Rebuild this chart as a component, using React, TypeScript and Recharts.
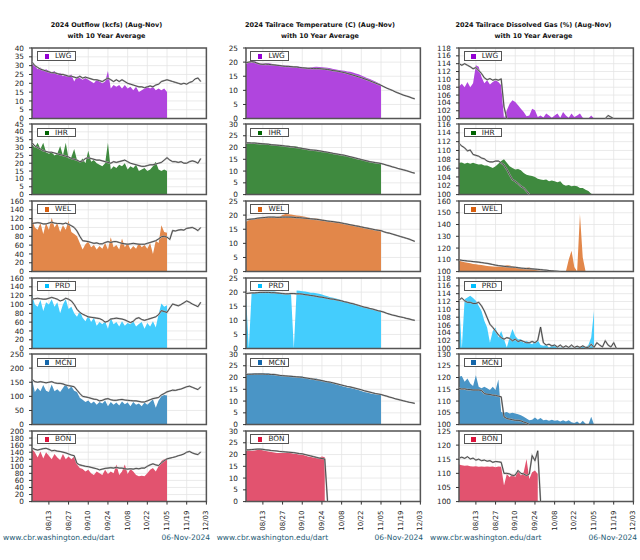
import React from "react";
import { ComposedChart, Area, Line, XAxis, YAxis, CartesianGrid, ReferenceArea } from "recharts";

// ---------- axis categories ----------
const DAYS = [0, 2, 4, 6, 8, 10, 12, 14, 16, 18, 20, 22, 24, 26, 28, 30, 32, 34, 36, 38, 40, 42, 44, 46, 48, 50, 52, 54, 56, 58, 60, 62, 64, 66, 68, 70, 72, 74, 76, 78, 80, 82, 84, 86, 88, 90, 92, 94, 96, 98, 100, 102, 104, 106, 108, 110, 112, 114, 116, 118, 120];
const TICK_DAYS = [12, 26, 40, 54, 68, 82, 96, 110, 124];
const TICK_LABELS = ["08/13", "08/27", "09/10", "09/24", "10/08", "10/22", "11/05", "11/19", "12/03"];

const STATIONS = ["LWG", "IHR", "WEL", "PRD", "MCN", "BON"];
const AREA_COLORS = ["#b045de", "#3f8a3f", "#e2874a", "#44cdfd", "#4a95c6", "#e2536f"];
const KEY_COLORS = ["#9400d3", "#006400", "#d9600f", "#00bfff", "#1466aa", "#dc143c"];

const TITLES = ["2024 Outflow (kcfs) (Aug-Nov)", "2024 Tailrace Temperature (C) (Aug-Nov)", "2024 Tailrace Dissolved Gas (%) (Aug-Nov)"];
const SUBTITLE = "with 10 Year Average";
const FOOT_URL = "www.cbr.washington.edu/dart";
const FOOT_DATE = "06-Nov-2024";

// ---------- y tick labels ----------
const FLOW_Y_TICKS = [
  [0, 5, 10, 15, 20, 25, 30, 35, 40],
  [0, 5, 10, 15, 20, 25, 30, 35, 40, 45],
  [0, 20, 40, 60, 80, 100, 120, 140, 160],
  [0, 20, 40, 60, 80, 100, 120, 140, 160],
  [0, 50, 100, 150, 200, 250],
  [0, 20, 40, 60, 80, 100, 120, 140, 160, 180, 200],
];
const TEMP_Y_TICKS = [
  [0, 5, 10, 15, 20, 25],
  [0, 5, 10, 15, 20, 25, 30],
  [0, 5, 10, 15, 20, 25],
  [0, 5, 10, 15, 20, 25],
  [0, 5, 10, 15, 20, 25, 30],
  [0, 5, 10, 15, 20, 25, 30],
];
const GAS_Y_TICKS = [
  [100, 102, 104, 106, 108, 110, 112, 114, 116, 118],
  [100, 102, 104, 106, 108, 110, 112, 114, 116],
  [100, 110, 120, 130, 140, 150, 160],
  [100, 102, 104, 106, 108, 110, 112, 114, 116, 118],
  [100, 105, 110, 115, 120, 125, 130],
  [100, 105, 110, 115, 120, 125],
];

// ---------- outflow (kcfs) ----------
const FLOW_LWG_2024 = [31, 30, 28, 29, 27, 28, 27, 26, 27, 25, 26, 24, 25, 24, 25, 21, 24, 23, 22, 23, 22, 21, 20, 22, 21, 20, 21, 27, 17, 19, 18, 19, 17, 19, 17, 18, 16, 18, 15, 16, 17, 18, 17, 18, 16, 17, 16, 17, 15];
const FLOW_LWG_AVG = [32, 30, 29, 28, 27.5, 27, 26.5, 26, 26, 25.5, 25, 25, 24.5, 24, 24, 23.5, 23, 24, 23, 23.5, 23, 22.5, 22, 22, 21.5, 21, 22, 23, 22, 21, 22, 21, 22, 21, 20, 19.5, 19, 18.5, 18, 18, 17.5, 18, 18.5, 18, 19, 19.5, 21, 21.5, 22, 21.5, 21, 20.5, 20, 19.5, 20, 19.5, 20.5, 21, 22.5, 23, 21];
const FLOW_IHR_2024 = [32, 30, 33, 29, 33, 27, 26, 27, 25, 26, 31, 25, 33, 23, 24, 29, 22, 21, 23, 20, 28, 21, 22, 20, 19, 18, 20, 33, 16, 18, 17, 19, 18, 20, 16, 18, 17, 19, 15, 16, 17, 15, 16, 18, 21, 16, 15, 16, 15];
const FLOW_IHR_AVG = [33, 31, 30, 29, 28, 27.5, 27, 27, 26.5, 26, 25.5, 25, 24.5, 24, 23, 22.5, 22, 21, 21.5, 23, 23.5, 23, 22.5, 22, 22, 21.5, 21, 20.5, 20, 21, 20.5, 21, 21.5, 22, 21, 20, 19.5, 19, 18.5, 18, 18, 18.5, 19, 19, 19.5, 20, 20.5, 22, 23.5, 22, 21, 21, 20.5, 21, 20, 20, 21, 21.5, 21, 20, 23];
const FLOW_WEL_2024 = [120, 100, 95, 110, 85, 110, 95, 122, 100, 110, 90, 105, 95, 115, 90, 85, 80, 65, 50, 62, 68, 55, 60, 50, 58, 52, 65, 50, 78, 55, 60, 50, 75, 55, 65, 50, 58, 52, 65, 55, 60, 52, 65, 40, 70, 65, 105, 90, 88];
const FLOW_WEL_AVG = [109, 110, 111, 110, 108, 108, 110, 112, 110, 109, 109, 108, 110, 107, 104, 100, 92, 80, 70, 69, 68, 66, 64, 65, 63, 63, 66, 68, 66, 68, 68, 66, 64, 63, 62, 63, 64, 63, 62, 62, 62, 64, 66, 68, 70, 74, 79, 80, 78, 73, 93, 92, 94, 95, 94, 98, 99, 100, 97, 93, 100];
const FLOW_PRD_2024 = [122, 100, 95, 110, 85, 105, 100, 112, 95, 105, 80, 100, 112, 90, 95, 80, 72, 85, 70, 62, 75, 60, 70, 52, 60, 55, 62, 45, 70, 55, 60, 50, 62, 52, 58, 55, 62, 50, 56, 60, 45, 58, 50, 62, 48, 78, 102, 95, 98];
const FLOW_PRD_AVG = [112, 113, 114, 113, 112, 112, 114, 116, 114, 112, 108, 110, 114, 112, 108, 100, 89, 82, 78, 75, 72, 71, 70, 69, 68, 65, 60, 62, 67, 68, 69, 68, 67, 65, 62, 59, 62, 68, 70, 66, 64, 66, 68, 70, 72, 77, 86, 84, 82, 92, 101, 99, 97, 100, 104, 108, 105, 101, 98, 95, 105];
const FLOW_MCN_2024 = [160, 115, 130, 118, 140, 120, 115, 142, 118, 125, 115, 130, 145, 125, 135, 120, 115, 95, 88, 80, 85, 75, 82, 70, 80, 75, 85, 65, 80, 70, 78, 68, 82, 72, 78, 65, 80, 70, 75, 65, 78, 70, 80, 90, 60, 85, 100, 105, 103];
const FLOW_MCN_AVG = [160, 152, 150, 152, 150, 148, 150, 152, 148, 146, 146, 144, 140, 138, 136, 134, 122, 110, 100, 98, 96, 93, 90, 89, 84, 86, 90, 92, 88, 86, 86, 88, 89, 87, 86, 85, 84, 84, 82, 80, 80, 84, 88, 92, 94, 96, 105, 110, 116, 119, 122, 121, 124, 126, 130, 134, 136, 132, 128, 124, 134];
const FLOW_BON_2024 = [149, 140, 125, 142, 122, 140, 130, 120, 135, 125, 118, 135, 120, 128, 120, 128, 105, 95, 92, 85, 90, 80, 75, 85, 80, 75, 90, 78, 85, 80, 105, 75, 85, 105, 78, 92, 85, 75, 72, 73, 72, 80, 90, 95, 85, 100, 115, 120, 122];
const FLOW_BON_AVG = [152, 148, 146, 148, 150, 151, 148, 144, 145, 143, 142, 140, 138, 135, 132, 130, 108, 104, 102, 100, 99, 97, 95, 93, 90, 92, 94, 95, 96, 95, 97, 95, 95, 93, 92, 93, 92, 94, 93, 95, 95, 100, 104, 107, 104, 102, 110, 116, 121, 123, 125, 127, 130, 132, 135, 140, 142, 138, 135, 133, 141];

// ---------- tailrace temperature (C) ----------
const TEMP_LWG_2024 = [19.5, 19.8, 20.3, 20.5, 19.9, 19.5, 19.4, 19.6, 19.7, 19.4, 19.2, 19.0, 18.8, 18.9, 18.8, 18.7, 18.6, 18.5, 18.5, 18.4, 18.3, 18.2, 18.0, 18.1, 18.3, 18.4, 18.3, 18.2, 18.1, 18.0, 17.8, 17.6, 17.4, 17.2, 17.0, 16.9, 16.7, 16.6, 16.3, 16.0, 15.7, 15.3, 14.8, 14.4, 14.0, 13.6, 13.1, 12.6, 12.2];
const TEMP_LWG_AVG = [19.8, 20.0, 20.2, 20.0, 19.6, 19.3, 19.2, 19.3, 19.2, 19.1, 19.0, 18.9, 18.8, 18.6, 18.5, 18.5, 18.4, 18.3, 18.3, 18.1, 18.0, 17.9, 17.8, 17.8, 17.7, 17.7, 17.7, 17.6, 17.5, 17.4, 17.2, 17.0, 16.9, 16.7, 16.5, 16.3, 16.0, 15.7, 15.4, 15.1, 14.8, 14.5, 14.1, 13.8, 13.4, 13.0, 12.6, 12.2, 11.8, 11.3, 10.8, 10.4, 10.0, 9.5, 9.1, 8.7, 8.3, 8.0, 7.7, 7.3, 7.0];
const TEMP_IHR_2024 = [22.0, 22.1, 22.0, 22.1, 21.9, 21.8, 21.8, 21.6, 21.6, 21.4, 21.3, 21.0, 20.7, 20.6, 20.8, 20.8, 20.7, 20.6, 20.4, 20.1, 19.9, 19.6, 19.3, 19.1, 18.9, 18.8, 18.7, 18.5, 18.2, 18.0, 17.8, 17.6, 17.4, 17.2, 17.0, 16.8, 16.5, 16.2, 15.9, 15.5, 15.2, 14.9, 14.6, 14.3, 14.0, 13.8, 13.7, 13.6, 13.4];
const TEMP_IHR_AVG = [22.0, 22.0, 21.9, 21.9, 21.8, 21.7, 21.6, 21.5, 21.4, 21.2, 21.1, 21.0, 20.9, 20.8, 20.6, 20.5, 20.3, 20.2, 20.0, 19.8, 19.6, 19.4, 19.2, 19.0, 18.9, 18.8, 18.6, 18.4, 18.2, 18.0, 17.8, 17.5, 17.3, 17.1, 16.9, 16.7, 16.4, 16.1, 15.8, 15.5, 15.2, 14.9, 14.6, 14.3, 14.0, 13.8, 13.6, 13.4, 13.2, 12.9, 12.5, 12.2, 11.8, 11.5, 11.1, 10.8, 10.5, 10.2, 9.8, 9.4, 9.1];
const TEMP_WEL_2024 = [17.6, 18.3, 18.5, 18.6, 18.8, 18.9, 19.0, 19.2, 19.3, 19.2, 19.2, 19.4, 19.5, 20.0, 20.4, 20.3, 20.2, 20.0, 19.9, 19.8, 19.6, 19.4, 19.2, 19.0, 18.9, 18.8, 18.6, 18.4, 18.3, 18.1, 17.9, 17.8, 17.7, 17.5, 17.3, 17.1, 16.9, 16.7, 16.6, 16.5, 16.3, 16.1, 15.8, 15.6, 15.4, 15.2, 15.0, 14.9, 14.7];
const TEMP_WEL_AVG = [18.3, 18.5, 18.6, 18.7, 18.9, 19.0, 19.1, 19.2, 19.3, 19.3, 19.3, 19.2, 19.2, 19.3, 19.3, 19.3, 19.3, 19.2, 19.1, 19.1, 19.0, 18.9, 18.8, 18.7, 18.6, 18.5, 18.4, 18.2, 18.1, 17.9, 17.8, 17.7, 17.5, 17.4, 17.2, 17.0, 16.8, 16.6, 16.4, 16.2, 16.0, 15.8, 15.6, 15.4, 15.2, 15.0, 14.8, 14.6, 14.5, 14.1, 13.8, 13.6, 13.3, 13.0, 12.7, 12.4, 12.1, 11.8, 11.5, 11.1, 10.7];
const TEMP_PRD_2024 = [19.0, 0, 19.8, 19.8, 19.9, 20.0, 20.0, 20.1, 20.1, 20.2, 20.2, 20.0, 19.8, 19.6, 19.4, 19.5, 19.6, 0, 20.6, 20.5, 20.3, 20.2, 20.0, 19.8, 19.8, 19.6, 19.4, 19.2, 18.8, 18.5, 18.2, 18.0, 17.7, 17.5, 17.1, 16.8, 16.5, 16.2, 15.9, 15.6, 15.3, 15.0, 14.7, 14.5, 14.3, 14.0, 13.8, 13.6, 13.4];
const TEMP_PRD_AVG = [19.5, 19.6, 19.7, 19.7, 19.8, 19.9, 19.9, 19.9, 19.9, 19.8, 19.8, 19.7, 19.6, 19.5, 19.4, 19.4, 19.5, 19.5, 19.4, 19.4, 19.3, 19.1, 19.0, 18.8, 18.7, 18.5, 18.3, 18.2, 18.0, 17.8, 17.6, 17.5, 17.3, 17.1, 16.9, 16.6, 16.4, 16.1, 15.9, 15.6, 15.3, 15.0, 14.7, 14.5, 14.2, 14.0, 13.7, 13.4, 13.2, 12.9, 12.5, 12.2, 11.9, 11.7, 11.4, 11.2, 11.0, 10.7, 10.5, 10.2, 10.0];
const TEMP_MCN_2024 = [21.6, 21.6, 21.7, 21.8, 21.8, 21.9, 21.9, 21.8, 21.8, 21.4, 21.1, 20.9, 20.7, 20.6, 20.7, 20.7, 20.8, 20.7, 20.6, 20.5, 20.4, 19.9, 19.4, 19.3, 19.5, 19.6, 19.2, 18.8, 18.6, 18.2, 17.9, 17.5, 17.1, 16.8, 16.4, 16.1, 15.8, 15.6, 15.3, 15.0, 14.7, 14.3, 13.9, 13.6, 13.3, 13.0, 12.9, 12.7, 12.6];
const TEMP_MCN_AVG = [21.3, 21.4, 21.4, 21.5, 21.5, 21.5, 21.5, 21.4, 21.4, 21.3, 21.3, 21.1, 20.9, 20.8, 20.7, 20.6, 20.5, 20.4, 20.3, 20.2, 20.1, 19.9, 19.7, 19.5, 19.3, 19.1, 18.9, 18.7, 18.4, 18.2, 18.0, 17.7, 17.4, 17.1, 16.8, 16.5, 16.2, 16.0, 15.7, 15.4, 15.1, 14.8, 14.4, 14.1, 13.8, 13.5, 13.2, 13.0, 12.8, 12.4, 12.1, 11.7, 11.4, 11.0, 10.7, 10.4, 10.1, 9.8, 9.5, 9.3, 9.0];
const TEMP_BON_2024 = [21.9, 21.8, 21.6, 21.7, 21.9, 22.0, 21.8, 21.5, 21.3, 21.1, 20.9, 20.7, 20.6, 20.6, 20.7, 20.8, 20.6, 20.3, 20.2, 20.0, 19.9, 19.6, 19.2, 19.0, 18.7, 18.5, 18.6, 19.2, 18.8];
const TEMP_BON_AVG = [22.0, 22.0, 22.1, 22.2, 22.3, 22.3, 22.2, 22.0, 21.9, 21.7, 21.6, 21.5, 21.3, 21.2, 21.1, 21.0, 20.9, 20.8, 20.6, 20.4, 20.3, 20.0, 19.7, 19.4, 19.1, 18.8, 18.5, 18.3, 18.1, 0];

// ---------- tailrace dissolved gas (%) ----------
const GAS_LWG_2024 = [108.2, 108.9, 108.0, 109.3, 108.0, 109.0, 113.6, 113.2, 110.6, 109.0, 109.8, 108.7, 109.3, 109.8, 109.3, 108.5, 100, 102.1, 103.8, 104.7, 104.2, 103.4, 102.5, 101.7, 100.6, 100.8, 102.5, 102.1, 100.4, 100.8, 100.3, 101.3, 100.8, 100.2, 100.8, 101.3, 100.2, 101.7, 100.8, 100.2, 101.3, 100.4, 100.8, 101.3, 100.2, 100, 100, 100.8, 100];
const GAS_LWG_AVG = [114, 113.6, 114, 113.6, 113.2, 112.7, 113, 112.3, 111.5, 110.4, 109.9, 110.2, 109.8, 110.0, 109.8, 110.1, 103, 100, null, null, null, null, null, null, null, null, null, null, null, null, null, null, null, null, null, null, null, null, null, null, null, null, null, null, null, null, null, null, null, null, null, null, 100, 100.8, 100.4, 100];
const GAS_IHR_2024 = [107.2, 107.3, 107.0, 107.2, 107.0, 107.2, 107.0, 106.8, 106.9, 106.6, 106.6, 106.3, 106.0, 106.4, 107.0, 107.6, 108.0, 107.2, 106.4, 106.0, 105.7, 105.8, 105.5, 104.9, 104.5, 104.3, 104.2, 104.0, 103.6, 103.4, 103.3, 103.4, 103.0, 103.2, 103.0, 102.8, 103.0, 102.3, 102.0, 102.2, 101.9, 102.0, 101.9, 101.5, 101.5, 101.1, 100.8, 100.2, 100.0];
const GAS_IHR_AVG = [111.6, 111.0, 110.6, 109.9, 110.1, 109.1, 108.9, 108.7, 108.3, 108.1, 107.6, 107.4, 107.4, 107.6, 107.6, 107.2, 106.7, 105.7, 104.5, 103.4, 103.0, 102.5, 101.9, 101.5, 100.8, 100.0];
const GAS_WEL_2024 = [109.3, 108.5, 108.0, 107.5, 107.0, 106.5, 106.3, 105.9, 105.5, 105.2, 104.8, 104.6, 104.3, 104.2, 104.4, 104.2, 104.8, 105.4, 105.2, 104.5, 103.7, 103.4, 102.8, 102.9, 103.2, 103.4, 102.5, 101.4, 101.2, 100.9, 100.8, 100.6, 100.5, 100.3, 100.2, 100.0, 100.0, 100.0, 100.0, 110.0, 117.8, 104.0, 100.0, 149.0, 112.0, 100.0, 100.0, 100.0, 100.0];
const GAS_WEL_AVG = [110, 109.6, 109.3, 109, 108.8, 108.5, 108.3, 108, 107.7, 107.3, 107, 106.5, 106, 105.5, 105.1, 104.8, 104.5, 104.2, 104, 103.8, 103.7, 103.3, 103, 102.8, 102.6, 102.5, 102.3, 102.1, 101.9, 101.7, 101.4, 101.2, 100.9, 100.7, 100.5, 100.3, 100];
const GAS_PRD_2024 = [112.5, 100, 112.6, 113.0, 113.5, 112.9, 112.2, 110.9, 109.6, 107.1, 105.4, 101.5, 104.5, 105.4, 102.8, 104.5, 102.4, 100.3, 102.8, 105.0, 103.2, 102.4, 102.4, 101.5, 102.0, 101.5, 101.1, 101.8, 102.1, 100.9, 100.7, 100.9, 100.3, 100.7, 101.1, 100.3, 100.2, 100.4, 100.1, 100.3, 100.2, 100.1, 100.3, 100.2, 100.7, 100.3, 100.9, 102.8, 109.6];
const GAS_PRD_AVG = [112.4, 112.9, 112.2, 111.8, 111.8, 111.5, 111.5, 111.8, 110.9, 109.6, 107.9, 106.2, 105.4, 104.5, 103.5, 102.8, 102.4, 102.8, 102.6, 102.0, 102.4, 101.8, 102.1, 101.8, 101.5, 101.5, 101.8, 101.5, 102.1, 105.5, 101.5, 100.9, 101.1, 100.7, 100.9, 100.4, 100.9, 100.3, 100.7, 100.3, 100.9, 100.3, 100.6, 100.3, 100.7, 100.3, 100.3, 101.1, 100.3, 101.5, 100.9, 100.4, 102.0, 100.9, 100.4, 101.5, 100.0];
const GAS_MCN_2024 = [120.3, 120.6, 118.2, 119.6, 117.5, 116.4, 121.0, 116.1, 115.4, 116.1, 115.4, 114.7, 116.1, 114.7, 119.2, 105.4, 105.0, 105.4, 104.7, 105.0, 104.7, 104.4, 104.0, 103.3, 102.6, 101.8, 102.1, 103.0, 102.1, 102.8, 101.8, 102.1, 101.6, 102.1, 101.6, 101.8, 101.3, 101.8, 101.3, 101.8, 101.0, 100.7, 101.3, 100.4, 101.6, 100.4, 100.0, 103.3, 100.0];
const GAS_MCN_AVG = [115.4, 115.1, 115.2, 114.9, 114.9, 114.7, 114.7, 114.7, 114.5, 113.2, 112.9, 112.8, 112.5, 112.4, 112.1, 111.8, 103.3, 102.6, 102.3, 102.1, 101.8, 101.8, 101.6, 101.1, 100.7, 100.1];
const GAS_BON_2024 = [113.1, 112.9, 112.7, 112.8, 112.5, 112.4, 112.5, 112.3, 112.4, 112.3, 112.4, 112.3, 112.4, 112.2, 112.4, 112.3, 105.7, 109.8, 108.6, 109.8, 108.6, 111.2, 109.2, 110.4, 115.1, 108.0, 110.4, 111.0, 109.8];
const GAS_BON_AVG = [115.4, 115.7, 115.3, 115.9, 115.1, 115.4, 114.7, 115.0, 114.5, 114.7, 114.3, 114.5, 113.9, 114.2, 114.1, 113.9, 110.0, 110.0, 109.8, 109.2, 109.4, 111.0, 110.0, 109.8, 109.2, 109.8, 116.3, 114.5, 118.0, 100.0];

const FLOW_SERIES = [
  [FLOW_LWG_2024, FLOW_LWG_AVG], [FLOW_IHR_2024, FLOW_IHR_AVG], [FLOW_WEL_2024, FLOW_WEL_AVG],
  [FLOW_PRD_2024, FLOW_PRD_AVG], [FLOW_MCN_2024, FLOW_MCN_AVG], [FLOW_BON_2024, FLOW_BON_AVG],
];
const TEMP_SERIES = [
  [TEMP_LWG_2024, TEMP_LWG_AVG], [TEMP_IHR_2024, TEMP_IHR_AVG], [TEMP_WEL_2024, TEMP_WEL_AVG],
  [TEMP_PRD_2024, TEMP_PRD_AVG], [TEMP_MCN_2024, TEMP_MCN_AVG], [TEMP_BON_2024, TEMP_BON_AVG],
];
const GAS_SERIES = [
  [GAS_LWG_2024, GAS_LWG_AVG], [GAS_IHR_2024, GAS_IHR_AVG], [GAS_WEL_2024, GAS_WEL_AVG],
  [GAS_PRD_2024, GAS_PRD_AVG], [GAS_MCN_2024, GAS_MCN_AVG], [GAS_BON_2024, GAS_BON_AVG],
];

const COLUMNS = [
  { series: FLOW_SERIES, ticks: FLOW_Y_TICKS },
  { series: TEMP_SERIES, ticks: TEMP_Y_TICKS },
  { series: GAS_SERIES, ticks: GAS_Y_TICKS },
];

function buildRows(cur: any[], avg: any[]) {
  return DAYS.map((d, i) => ({
    day: d,
    cur: i < cur.length ? cur[i] : null,
    avg: i < avg.length ? avg[i] : null,
  }));
}

// ---------- layout ----------
const FONT = "'DejaVu Sans', sans-serif";
const COL_LEFTS = [32.3, 245.7, 459];
const TITLE_CENTERS = [106.5, 320, 533.5];
const FOOT_URL_LEFTS = [3, 216.7, 430];
const FOOT_DATE_RIGHTS = [210, 423, 637];
const ROW_TOP0 = 47.7;
const ROW_PITCH = 76.6;
const PLOT_W = 174.4;
const PLOT_H = 70.6;
const Y_AXIS_W = 40;
const TOP_PAD = 6;
const X_AXIS_H = 34;

function XTick(props: any) {
  const { x, y, payload } = props;
  const idx = TICK_DAYS.indexOf(payload.value);
  return (
    <text
      x={x}
      y={y}
      transform={`rotate(-90 ${x} ${y})`}
      textAnchor="end"
      dominantBaseline="central"
      fontSize={7}
      fill="#222"
      fontFamily={FONT}
    >
      {TICK_LABELS[idx]}
    </text>
  );
}

function Panel(props: any) {
  const { plotLeft, plotTop, rows, yTicks, areaColor, keyColor, name, showX } = props;
  const yMin = yTicks[0];
  const yMax = yTicks[yTicks.length - 1];
  const xH = showX ? X_AXIS_H : 0;
  const chartW = Y_AXIS_W + PLOT_W + 4;
  const chartH = TOP_PAD + PLOT_H + xH + 4;
  return (
    <div style={{ position: "absolute", left: plotLeft - Y_AXIS_W, top: plotTop - TOP_PAD, width: chartW, height: chartH }}>
      <ComposedChart width={chartW} height={chartH} data={rows} margin={{ top: TOP_PAD, right: 4, bottom: 4, left: 0 }}>
        <CartesianGrid stroke="#e4e4e4" strokeWidth={0.8} />
        <XAxis
          type="number"
          dataKey="day"
          domain={[0, 124]}
          ticks={TICK_DAYS}
          interval={0}
          allowDataOverflow
          hide={!showX}
          height={xH}
          axisLine={false}
          tickLine={{ stroke: "#333" }}
          tickSize={3}
          tickMargin={6}
          tick={<XTick />}
        />
        <YAxis
          type="number"
          domain={[yMin, yMax]}
          ticks={yTicks}
          interval={0}
          allowDataOverflow
          width={Y_AXIS_W}
          axisLine={false}
          tickLine={{ stroke: "#333" }}
          tickSize={3}
          tickMargin={5}
          tick={{ fontSize: 7.3, fill: "#222", fontFamily: FONT }}
        />
        <Area
          type="linear"
          dataKey="cur"
          stroke="none"
          fill={areaColor}
          fillOpacity={1}
          connectNulls={false}
          dot={false}
          activeDot={false}
          isAnimationActive={false}
        />
        <Line type="linear" dataKey="avg" stroke="#b4b4b4" strokeWidth={1.7} dot={false} activeDot={false} connectNulls={false} isAnimationActive={false} />
        <Line type="linear" dataKey="avg" stroke="#333" strokeWidth={0.8} dot={false} activeDot={false} connectNulls={false} isAnimationActive={false} />
        <ReferenceArea x1={0} x2={124} y1={yMin} y2={yMax} fill="none" stroke="#555" strokeWidth={1.5} ifOverflow="visible" />
      </ComposedChart>
      <div
        style={{
          position: "absolute",
          left: Y_AXIS_W + 4.8,
          top: TOP_PAD + 3.6,
          width: 38.5,
          height: 9.5,
          boxSizing: "border-box",
          border: "1px solid #555",
          background: "#fff",
        }}
      >
        <div style={{ position: "absolute", left: 6.5, top: 1.8, width: 4.5, height: 4.5, background: keyColor }} />
        <div
          style={{
            position: "absolute",
            left: 17,
            top: 0,
            height: 7.5,
            lineHeight: "7.5px",
            fontSize: 7.3,
            fontFamily: FONT,
            color: "#222",
            whiteSpace: "nowrap",
          }}
        >
          {name}
        </div>
      </div>
    </div>
  );
}

export default function App() {
  return (
    <div style={{ position: "absolute", left: 0, top: 0, width: 640, height: 560, background: "#fff", fontFamily: FONT, overflow: "hidden" }}>
      {TITLES.map((t, c) => (
        <div
          key={"t" + c}
          style={{
            position: "absolute",
            left: TITLE_CENTERS[c] - 110,
            top: 19.5,
            width: 220,
            textAlign: "center",
            fontSize: 6.5,
            lineHeight: "11px",
            fontWeight: "bold",
            color: "#111",
            whiteSpace: "nowrap",
          }}
        >
          <div>{t}</div>
          <div>{SUBTITLE}</div>
        </div>
      ))}
      {COLUMNS.map((col, c) =>
        STATIONS.map((st, r) => (
          <Panel
            key={c + "-" + r}
            plotLeft={COL_LEFTS[c]}
            plotTop={ROW_TOP0 + r * ROW_PITCH}
            rows={buildRows(col.series[r][0], col.series[r][1])}
            yTicks={col.ticks[r]}
            areaColor={AREA_COLORS[r]}
            keyColor={KEY_COLORS[r]}
            name={st}
            showX={r === STATIONS.length - 1}
          />
        ))
      )}
      {FOOT_URL_LEFTS.map((l, c) => (
        <div
          key={"fu" + c}
          style={{ position: "absolute", left: l, top: 533, fontSize: 7.5, lineHeight: "10px", color: "#1f5c75", whiteSpace: "nowrap" }}
        >
          {FOOT_URL}
        </div>
      ))}
      {FOOT_DATE_RIGHTS.map((rgt, c) => (
        <div
          key={"fd" + c}
          style={{ position: "absolute", left: rgt - 80, width: 80, top: 533, textAlign: "right", fontSize: 7.5, lineHeight: "10px", color: "#1f5c75", whiteSpace: "nowrap" }}
        >
          {FOOT_DATE}
        </div>
      ))}
    </div>
  );
}
